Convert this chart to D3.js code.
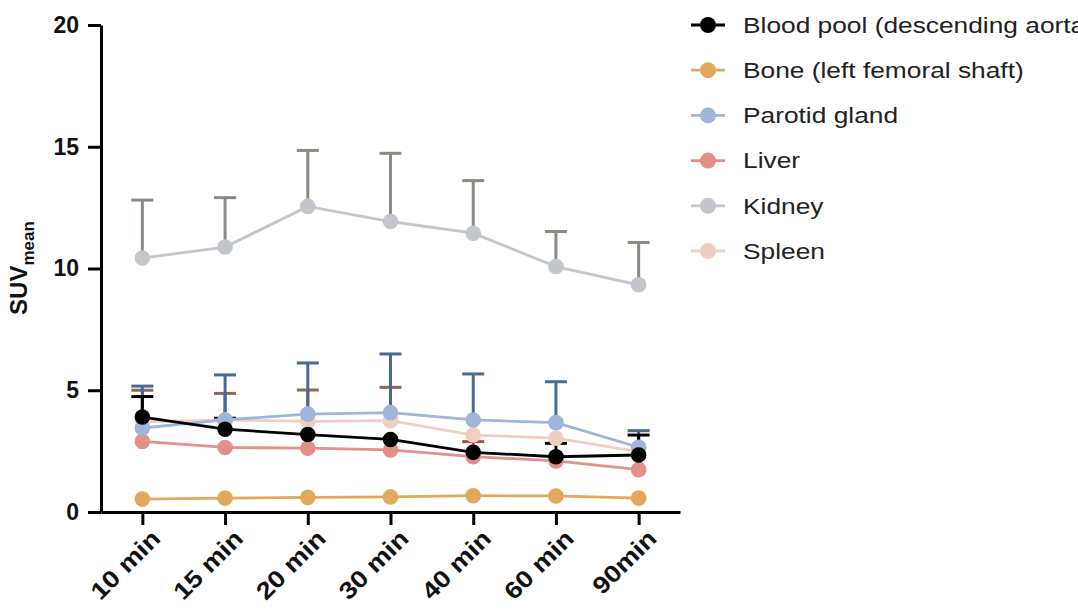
<!DOCTYPE html>
<html>
<head>
<meta charset="utf-8">
<script src="https://cdn.jsdelivr.net/npm/d3@7"></script>
<style>
  body { margin: 0; background: #fff; }
  svg { display: block; font-family: "Liberation Sans", Arial, Helvetica, sans-serif; }
</style>
</head>
<body>
<script>
//width and height
var w = 1078;
var h = 610;

//time points on the x axis
var categories = ["10 min", "15 min", "20 min", "30 min", "40 min", "60 min", "90min"];
var yTicks = [0, 5, 10, 15, 20];

//series names (legend order)
var names = ["Blood pool (descending aorta)", "Bone (left femoral shaft)", "Parotid gland", "Liver", "Kidney", "Spleen"];

//mean SUV per time point
var blood   = [3.90, 3.40, 3.18, 2.98, 2.45, 2.27, 2.34];
var bone    = [0.53, 0.57, 0.60, 0.62, 0.67, 0.66, 0.57];
var parotid = [3.45, 3.78, 4.02, 4.08, 3.78, 3.67, 2.66];
var liver   = [2.90, 2.65, 2.62, 2.55, 2.27, 2.10, 1.74];
var kidney  = [10.43, 10.88, 12.55, 11.93, 11.45, 10.08, 9.33];
var spleen  = [3.70, 3.78, 3.72, 3.75, 3.16, 3.03, 2.48];

//upper error (SD) per time point, 0 where no bar shows
var bloodSD   = [0.84, 0.45, 0, 0, 0, 0.55, 0.82];
var boneSD    = [0, 0, 0, 0, 0, 0, 0];
var parotidSD = [1.72, 1.85, 2.10, 2.41, 1.89, 1.68, 0.68];
var liverSD   = [0, 0, 0, 0, 0.62, 0, 0];
var kidneySD  = [2.38, 2.03, 2.30, 2.80, 2.16, 1.44, 1.74];
var spleenSD  = [1.30, 1.09, 1.29, 1.37, 0, 0, 0];

//colours: line/point and error bar
var colors    = ["#000000", "#e2a95c", "#9fb5da", "#e1908a", "#c3c6ca", "#f0cfc3"];
var errColors = ["#000000", "#c08a40", "#4c6894", "#a84a46", "#8c8a82", "#8a6a58"];

var means = [blood, bone, parotid, liver, kidney, spleen];
var sds = [bloodSD, boneSD, parotidSD, liverSD, kidneySD, spleenSD];

//build one object per series
var series = names.map(function(n, i) {
    return {
        name: n,
        color: colors[i],
        err: errColors[i],
        values: categories.map(function(c, j) {
            return { cat: c, mean: means[i][j], sd: sds[i][j] };
        })
    };
});

//drawing order: first legend entry ends up on top
var drawOrder = [5, 4, 3, 2, 1, 0];

var svg = d3.select("body")
            .append("svg")
            .attr("width", w)
            .attr("height", h);

//scales
var x = d3.scalePoint()
          .domain(categories)
          .range([101, 680])
          .padding(0.5);

var y = d3.scaleLinear()
          .domain([0, 20])
          .range([512, 25]);

//error bars (upper only) first
drawOrder.forEach(function(si) {
    var s = series[si];
    var g = svg.append("g");
    var vals = s.values.filter(function(d) { return d.sd > 0; });
    g.selectAll("line.stem")
        .data(vals)
        .enter()
        .append("line")
        .attr("x1", function(d) { return x(d.cat); })
        .attr("x2", function(d) { return x(d.cat); })
        .attr("y1", function(d) { return y(d.mean); })
        .attr("y2", function(d) { return y(d.mean + d.sd); })
        .attr("stroke", s.err)
        .attr("stroke-width", 3);
    g.selectAll("line.cap")
        .data(vals)
        .enter()
        .append("line")
        .attr("x1", function(d) { return x(d.cat) - 11; })
        .attr("x2", function(d) { return x(d.cat) + 11; })
        .attr("y1", function(d) { return y(d.mean + d.sd); })
        .attr("y2", function(d) { return y(d.mean + d.sd); })
        .attr("stroke", s.err)
        .attr("stroke-width", 3);
});

//lines and points
var line = d3.line()
             .x(function(d) { return x(d.cat); })
             .y(function(d) { return y(d.mean); });

drawOrder.forEach(function(si) {
    var s = series[si];
    var g = svg.append("g");
    g.append("path")
        .datum(s.values)
        .attr("d", line)
        .attr("fill", "none")
        .attr("stroke", s.color)
        .attr("stroke-width", 2.8);
    g.selectAll("circle")
        .data(s.values)
        .enter()
        .append("circle")
        .attr("cx", function(d) { return x(d.cat); })
        .attr("cy", function(d) { return y(d.mean); })
        .attr("r", 7.8)
        .attr("fill", s.color);
});

//x axis
var xAxis = svg.append("g")
    .attr("transform", "translate(0,512)")
    .call(d3.axisBottom(x).tickSize(13).tickSizeOuter(0));

xAxis.select(".domain").attr("stroke-width", 3).attr("stroke", "#000");
xAxis.selectAll(".tick line").attr("stroke-width", 3).attr("stroke", "#000");
xAxis.selectAll(".tick text")
    .attr("x", 0)
    .attr("y", 0)
    .attr("dy", "0.35em")
    .attr("text-anchor", "end")
    .attr("transform", "translate(13,22) rotate(-45) scale(1.14,1)")
    .style("font-size", "24px")
    .style("font-weight", "bold")
    .style("fill", "#111");

//y axis
var yAxis = svg.append("g")
    .attr("transform", "translate(101,0)")
    .call(d3.axisLeft(y).tickValues(yTicks).tickSize(13).tickSizeOuter(0).tickPadding(9));

yAxis.select(".domain").attr("stroke-width", 3).attr("stroke", "#000");
yAxis.selectAll(".tick line").attr("stroke-width", 3).attr("stroke", "#000");
yAxis.selectAll(".tick text")
    .style("font-size", "23px")
    .style("font-weight", "bold")
    .style("fill", "#111");

//y axis title with subscript
var yTitle = svg.append("text")
    .attr("transform", "translate(27,268) rotate(-90)")
    .attr("text-anchor", "middle")
    .style("font-weight", "bold")
    .style("fill", "#111");
yTitle.append("tspan").style("font-size", "24px").text("SUV");
yTitle.append("tspan").style("font-size", "17px").attr("dy", 7).text("mean");

//legend
var legend = svg.selectAll("g.legend")
    .data(series)
    .enter()
    .append("g")
    .attr("class", "legend")
    .attr("transform", function(d, i) { return "translate(0," + (25 + i * 45.2) + ")"; });

legend.append("line")
    .attr("x1", 691)
    .attr("x2", 725)
    .attr("stroke", function(d) { return d.color; })
    .attr("stroke-width", 2.8);

legend.append("circle")
    .attr("cx", 708)
    .attr("r", 8)
    .attr("fill", function(d) { return d.color; });

legend.append("text")
    .attr("transform", "translate(743,0) scale(1.17,1)")
    .attr("dy", "0.35em")
    .style("font-size", "22.5px")
    .style("fill", "#222")
    .text(function(d) { return d.name; });
</script>
</body>
</html>
